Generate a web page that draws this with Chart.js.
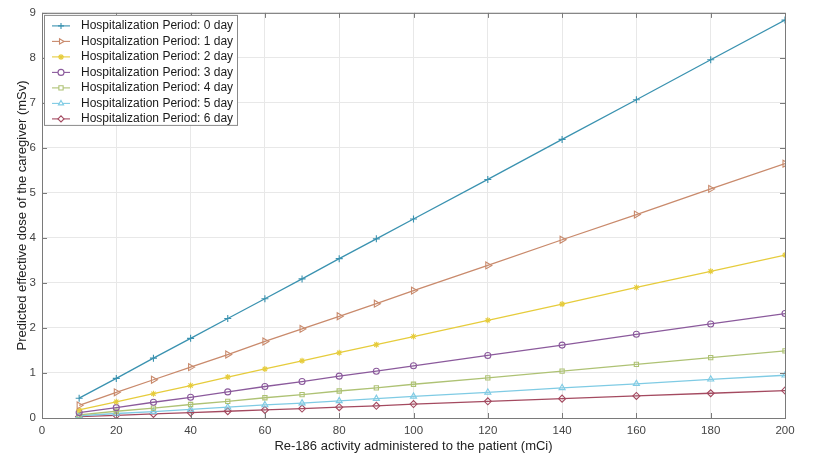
<!DOCTYPE html>
<html><head><meta charset="utf-8">
<script src="https://cdn.jsdelivr.net/npm/chart.js@4/dist/chart.umd.min.js"></script>
<style>html,body{margin:0;padding:0;background:#fff}#wrap{width:819px;height:454px}</style>
</head><body><div id="wrap"><canvas id="c" width="819" height="454"></canvas></div>
<script>
const activity = [10,20,30,40,50,60,70,80,90,100,120,140,160,180,200];
const day0 = [0.44,0.88,1.33,1.77,2.21,2.65,3.09,3.54,3.98,4.42,5.30,6.19,7.07,7.96,8.84];
const day1 = [0.28,0.57,0.85,1.13,1.41,1.70,1.98,2.26,2.54,2.83,3.39,3.96,4.52,5.09,5.65];
const day2 = [0.18,0.36,0.54,0.72,0.91,1.09,1.27,1.45,1.63,1.81,2.17,2.53,2.90,3.26,3.62];
const day3 = [0.12,0.23,0.35,0.46,0.58,0.70,0.81,0.93,1.04,1.16,1.39,1.62,1.86,2.09,2.32];
const day4 = [0.07,0.15,0.22,0.30,0.37,0.45,0.52,0.60,0.67,0.75,0.89,1.04,1.19,1.34,1.49];
const day5 = [0.05,0.10,0.14,0.19,0.24,0.29,0.33,0.38,0.43,0.48,0.57,0.67,0.76,0.86,0.95];
const day6 = [0.03,0.06,0.09,0.12,0.15,0.18,0.21,0.24,0.27,0.31,0.37,0.43,0.49,0.55,0.61];
const seriesNames = ['Hospitalization Period: 0 day','Hospitalization Period: 1 day','Hospitalization Period: 2 day','Hospitalization Period: 3 day','Hospitalization Period: 4 day','Hospitalization Period: 5 day','Hospitalization Period: 6 day'];
const xTitle = 'Re-186 activity administered to the patient (mCi)';
const yTitle = 'Predicted effective dose of the caregiver (mSv)';

const allSeries = [day0,day1,day2,day3,day4,day5,day6];
const colors = ['#3a92b0','#c98a6c','#e6cc3c','#8b5a9c','#aec274','#7fcbe4','#a44a60'];
const styles = ['cross','triangle','star','circle','rect','triangle','rectRot'];
const rots = [0,90,0,0,0,0,0];
const radii = [3.5,4,3,3,3,3.5,3.5];

const datasets = allSeries.map((s,i)=>({
  label: seriesNames[i],
  data: s.map((v,j)=>({x:activity[j],y:v})),
  borderColor: colors[i],
  backgroundColor: 'rgba(255,255,255,0)',
  borderWidth: 1.3,
  pointStyle: styles[i],
  pointRotation: rots[i],
  pointRadius: radii[i],
  pointBorderWidth: 1.1,
  pointBorderColor: colors[i],
  pointBackgroundColor: 'rgba(255,255,255,0)',
  tension: 0
}));

const FONT = '"Liberation Sans", Arial, sans-serif';

const boxPlugin = {
  id: 'boxPlugin',
  afterDraw(chart) {
    const {ctx, chartArea:a, scales:{x, y}} = chart;
    ctx.save();
    ctx.strokeStyle = '#7a7a7a';
    ctx.lineWidth = 1;
    ctx.strokeRect(a.left+0.5, a.top+0.5, a.right-a.left, a.bottom-a.top);
    const tl = 5;
    ctx.beginPath();
    for (let v=0; v<=200; v+=20) {
      const px = Math.round(x.getPixelForValue(v))+0.5;
      ctx.moveTo(px, a.bottom); ctx.lineTo(px, a.bottom-tl);
      ctx.moveTo(px, a.top); ctx.lineTo(px, a.top+tl);
    }
    for (let v=0; v<=9; v+=1) {
      const py = Math.round(y.getPixelForValue(v))+0.5;
      ctx.moveTo(a.left, py); ctx.lineTo(a.left+tl, py);
      ctx.moveTo(a.right, py); ctx.lineTo(a.right-tl, py);
    }
    ctx.stroke();
    // legend
    const lx = a.left+2, ly = a.top+2, lw = 193, lh = 110;
    ctx.fillStyle = '#fff';
    ctx.fillRect(lx, ly, lw, lh);
    ctx.strokeStyle = '#8a8a8a';
    ctx.strokeRect(lx+0.5, ly+0.5, lw, lh);
    ctx.textBaseline = 'middle';
    const ds = chart.data.datasets;
    for (let i=0;i<ds.length;i++){
      const cy = ly + 11 + i*15.5;
      ctx.strokeStyle = ds[i].borderColor;
      ctx.lineWidth = 1.1;
      ctx.beginPath(); ctx.moveTo(lx+8, cy); ctx.lineTo(lx+26, cy); ctx.stroke();
      ctx.fillStyle = '#ffffff';
      Chart.helpers.drawPoint(ctx, {pointStyle: ds[i].pointStyle, rotation: ds[i].pointRotation, radius: 3, borderWidth: 1}, lx+17, cy);
      ctx.fillStyle = '#1a1a1a';
      ctx.font = '12px ' + FONT;
      ctx.fillText(ds[i].label, lx+37, cy);
    }
    ctx.restore();
  }
};

new Chart(document.getElementById('c'), {
  type: 'line',
  data: { datasets },
  options: {
    responsive: false,
    animation: false,
    layout: { padding: { top: 12, right: 34, left: 0, bottom: 0 } },
    plugins: { legend: { display: false }, tooltip: { enabled: false } },
    scales: {
      x: {
        type: 'linear', min: 0, max: 200,
        ticks: { stepSize: 20, color: '#444', font: { family: FONT, size: 11.5 }, padding: 6, maxRotation: 0 },
        grid: { color: '#e8e8e8', drawTicks: false },
        border: { display: false },
        title: { display: true, text: xTitle, color: '#222', font: { family: FONT, size: 13 }, padding: { top: 0, bottom: 0 } },
        afterFit(s){ s.height = 36; }
      },
      y: {
        type: 'linear', min: 0, max: 9,
        ticks: { stepSize: 1, color: '#444', font: { family: FONT, size: 11.5 }, padding: 6 },
        grid: { color: '#e8e8e8', drawTicks: false },
        border: { display: false },
        title: { display: true, text: yTitle, color: '#222', font: { family: FONT, size: 13 }, padding: { top: 15, bottom: 0 } },
        afterFit(s){ s.width = 42; }
      }
    }
  },
  plugins: [boxPlugin]
});
</script>
</body></html>
